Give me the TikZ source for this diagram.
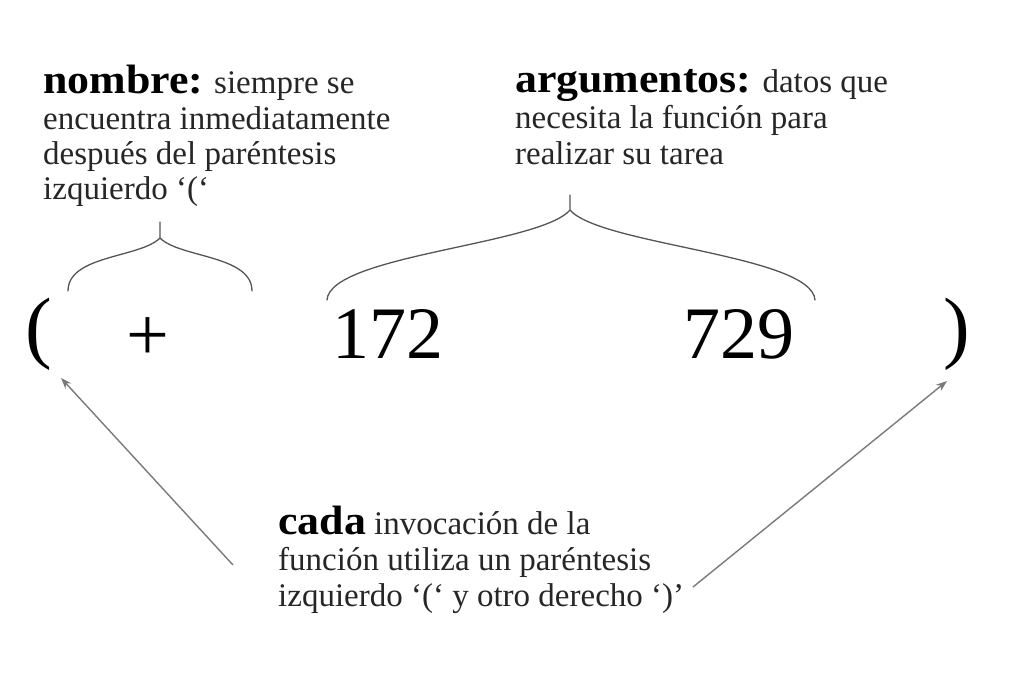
\documentclass[tikz,border=0pt]{standalone}
\usepackage{fontspec}
\setmainfont{Liberation Serif}
\newfontfamily\bfam[FakeStretch=1.07]{Liberation Serif Bold}
\usetikzlibrary{arrows.meta}
\definecolor{txt}{HTML}{262626}
\definecolor{bracecol}{HTML}{555555}
\definecolor{arrcol}{HTML}{7A7A7A}
\tikzset{
  reg/.style={anchor=base west, inner sep=0pt, font=\fontsize{33}{36}\selectfont, text=txt},
  bigsym/.style={anchor=base, inner sep=0pt, text=black},
  bracepath/.style={draw=bracecol, line width=1.3pt, line cap=round},
  arr/.style={draw=arrcol, line width=1.4pt, -{Stealth[length=11pt,width=8pt]}},
}
\newcommand{\bw}[1]{{\bfam\fontsize{41}{36}\selectfont\color{black}#1}}
\begin{document}
\begin{tikzpicture}[x=1pt,y=-1pt]
\useasboundingbox (0,0) rectangle (1012,696);
% top-left text
\node[reg] (n1) at (43,93) {\bw{nombre:} siempre se};
\node[reg] (n2) at (43,129) {encuentra inmediatamente};
\node[reg] (n3) at (43,164) {después del paréntesis};
\node[reg] (n4) at (43,199) {izquierdo ‘(‘};
% top-right text
\node[reg] (a1) at (515,92) {\bw{argumentos:} datos que};
\node[reg] (a2) at (515,128) {necesita la función para};
\node[reg] (a3) at (515,164) {realizar su tarea};
% bottom text
\node[reg] (c1) at (278,534) {\bw{cada} invocación de la};
\node[reg] (c2) at (278,570) {función utiliza un paréntesis};
\node[reg] (c3) at (278,606) {izquierdo ‘(‘ y otro derecho ‘)’};
% expression
\node[bigsym, font=\fontsize{80}{80}\selectfont] (lp) at (39,353) {(};
\node[bigsym, font=\fontsize{76}{76}\selectfont] (plus) at (148,360) {+};
\node[bigsym, font=\fontsize{74}{74}\selectfont] (n172) at (388,358) {172};
\node[bigsym, font=\fontsize{74}{74}\selectfont] (n729) at (739,358) {729};
\node[bigsym, font=\fontsize{80}{80}\selectfont] (rp) at (957,353) {)};
% braces
\draw[bracepath] (68,291) .. controls (68,255) and (140,258) .. (160,238) -- (160,222);
\draw[bracepath] (252,291) .. controls (252,255) and (180,258) .. (160,238);
\draw[bracepath] (327,300) .. controls (330,255) and (540,245) .. (570,210) -- (570,195);
\draw[bracepath] (815,300) .. controls (812,255) and (600,245) .. (570,210);
% arrows
\coordinate (ls) at (233,565);
\coordinate (lt) at (61,378);
\coordinate (rs) at (693,587);
\coordinate (rt) at (947,381);
\draw[arr] (ls) -- (lt);
\draw[arr] (rs) -- (rt);
\end{tikzpicture}
\end{document}
